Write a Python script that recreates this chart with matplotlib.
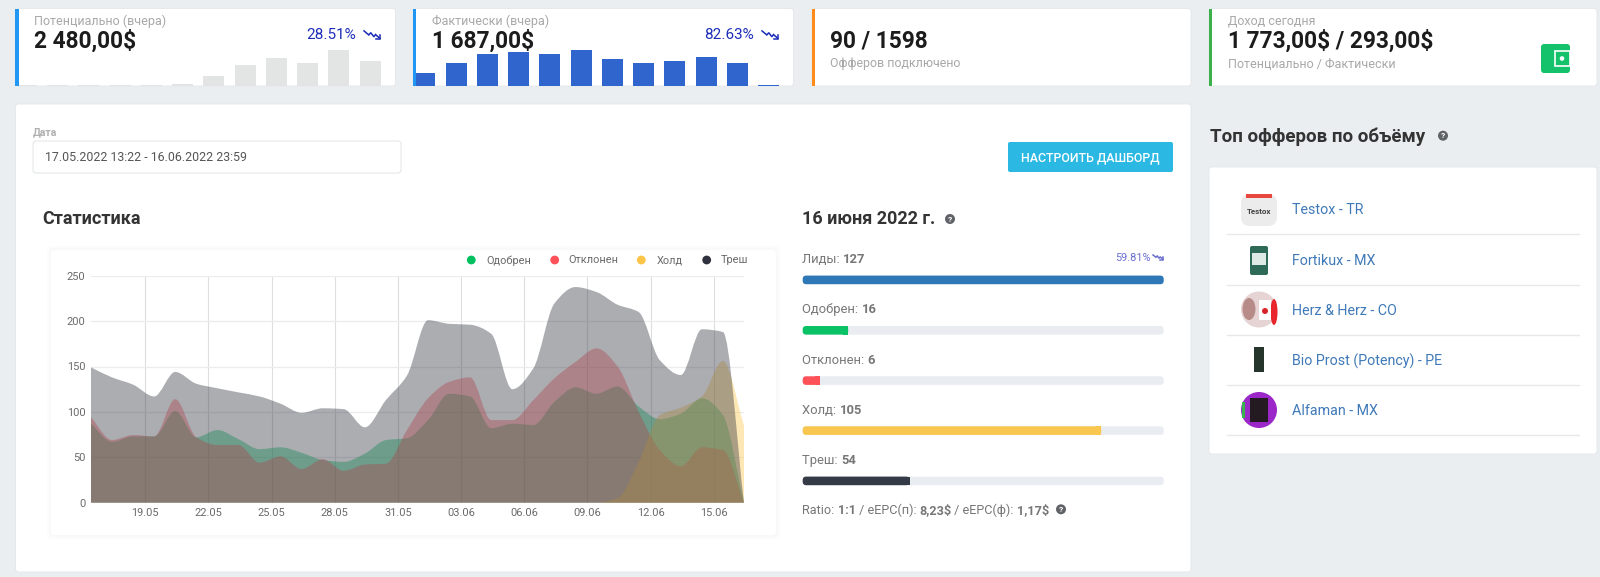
import matplotlib
matplotlib.use("Agg")
import matplotlib.pyplot as plt
import numpy as np
from matplotlib.patches import FancyBboxPatch, Rectangle, Circle, PathPatch, Ellipse
from matplotlib.path import Path

plt.rcParams['font.family'] = ['Roboto', 'DejaVu Sans']

# stacked area readings, one per day
approved = [87, 67, 73, 73, 101, 72, 80, 70, 59, 61, 55, 47, 45, 54, 69, 71,
            91, 120, 117, 82, 87, 85.5, 111, 127, 120, 128, 106, 92, 98, 115, 96.5, 0]
rejected = [94, 69, 74.5, 73, 114, 72, 63.5, 63.5, 44, 51, 37, 48, 35, 42, 43, 80,
            115, 133, 138, 91, 91, 113, 137, 155, 170, 150, 100, 58, 40, 61, 58, 0]
hold = [0, 0, 0, 0, 0, 0, 0, 0, 0, 0, 0, 0, 0, 0, 0, 0,
        0, 0, 0, 0, 0, 0, 0, 0, 0, 5, 45, 96.5, 104.6, 117, 156, 85]
trash = [149, 138, 130, 117, 144, 131, 126, 121.5, 117, 109, 99, 104, 103, 83, 113, 140,
         201, 197, 196, 186, 125, 148, 219.5, 237.5, 232, 218, 210, 157, 140.6, 191, 188, 0]
series_names = ["Одобрен", "Отклонен", "Холд", "Треш"]
series_colors = ["#00c060", "#ff5258", "#fcc548", "#2f323e"]

date_labels = ["19.05", "22.05", "25.05", "28.05", "31.05", "03.06", "06.06", "09.06", "12.06", "15.06"]
first_label_day = 2.57

# small bars in the top cards
potential_bars = [1, 1, 1, 1, 1, 2, 10, 21, 28, 23, 36, 25]
actual_bars = [13, 23, 32, 34, 32, 36, 27, 23, 25, 29, 23, 1]

# progress rows
row_names = ["Лиды", "Одобрен", "Отклонен", "Холд", "Треш"]
row_values = [127, 16, 6, 105, 54]
row_fill = [100, 12.6, 4.7, 82.7, 29.6]
row_colors = ["#2f78b7", "#0ac266", "#ff5258", "#f9c74f", "#343a46"]

offers = ["Testox - TR", "Fortikux - MX", "Herz & Herz - CO", "Bio Prost (Potency) - PE", "Alfaman - MX"]

W, H = 1600, 577
fig = plt.figure(figsize=(W / 100, H / 100), dpi=100, facecolor="#eaeef1")
bg = fig.add_axes([0, 0, 1, 1], zorder=0)
bg.set_xlim(0, W)
bg.set_ylim(H, 0)
bg.axis("off")


def px(size):
    return size * 0.72


def card(x0, y0, x1, y1, strip=None, strip_w=3.2):
    bg.add_patch(FancyBboxPatch((x0, y0), x1 - x0, y1 - y0, boxstyle="round,pad=0,rounding_size=3",
                                fc="white", ec="#e4e7ea", lw=0.6))
    if strip:
        bg.add_patch(Rectangle((x0, y0), strip_w, y1 - y0, fc=strip, ec="none", zorder=3))


def txt(x, y, s, size, color="#333333", weight="normal", ha="left", **kw):
    return bg.text(x, y + size * 0.08, s, fontsize=px(size), color=color, fontweight=weight, ha=ha, va="center",
                   parse_math=False, **kw)


def rich(x, y, parts, size, color):
    # label pieces of mixed weight, one after the other
    r = fig.canvas.get_renderer()
    for s, w in parts:
        t = txt(x, y, s, size, color, w)
        x = t.get_window_extent(r).x1
    return x


def help_icon(x, y, r=5):
    bg.add_patch(Circle((x, y), r, fc="#5f6368", ec="none"))
    bg.text(x, y + 0.3, "?", fontsize=px(r * 1.7), color="white", fontweight="bold", ha="center", va="center")


def trend(x0, y0, w, h, color):
    xs = np.array([0, 0.3, 0.42, 0.62, 0.72, 1.0]) * w + x0
    ys = np.array([0.1, 0.55, 0.3, 0.75, 0.5, 0.95]) * h + y0
    bg.plot(xs, ys, color=color, lw=1.1, solid_joinstyle="miter")
    bg.plot([x0 + w * 0.72, x0 + w, x0 + w], [y0 + h, y0 + h, y0 + h * 0.55], color=color, lw=1.1)


def bars(x0, x1, first_center, values, color):
    ax = fig.add_axes([x0 / W, 1 - 86 / H, (x1 - x0) / W, 77 / H], zorder=2)
    pitch = 31.25
    ax.bar(np.arange(len(values)), values, width=21 / pitch, color=color)
    ax.set_xlim((x0 - first_center) / pitch, (x1 - first_center) / pitch)
    ax.set_ylim(0, 77)
    ax.axis("off")


# top cards
card(15.3, 8.5, 395.5, 86, "#2196f3")
card(413, 8.5, 793.5, 86, "#2196f3")
card(812, 8.5, 1191, 86, "#ff8c1a")
card(1209, 8.5, 1597, 86, "#3cb04a")
bars(18.5, 395.5, 26.4, potential_bars, "#e3e5e4")
bars(416.2, 793.5, 424.9, actual_bars, "#3065cd")

grey = "#a8a8a8"
dark = "#1c1c1c"
blue = "#1c2db8"
txt(34.5, 20, "Потенциально (вчера)", 12.5, grey)
txt(34.5, 39, "2 480,00$", 22.6, dark, "bold")
txt(306, 34, "28.51%", 15.3, blue)
trend(364, 30, 16, 9, blue)
txt(432.5, 20, "Фактически (вчера)", 12.5, grey)
txt(432.5, 39, "1 687,00$", 22.6, dark, "bold")
txt(704, 34, "82.63%", 15.3, blue)
trend(762, 30, 16, 9, blue)
txt(830.5, 39, "90 / 1598", 22.6, dark, "bold")
txt(830.5, 63, "Офферов подключено", 12.4, grey)
txt(1227.5, 20, "Доход сегодня", 12.5, grey)
txt(1227.5, 39, "1 773,00$ / 293,00$", 22.6, dark, "bold")
txt(1227.5, 63, "Потенциально / Фактически", 12.5, grey)

# wallet
bg.add_patch(FancyBboxPatch((1541, 44), 29, 29, boxstyle="round,pad=0,rounding_size=3", fc="#14c26b", ec="none", zorder=3))
bg.add_patch(Rectangle((1555, 51), 15, 15, fc="#14c26b", ec="white", lw=1.2, zorder=4))
bg.add_patch(Circle((1562, 58.5), 2.3, fc="white", ec="none", zorder=5))

# main panel
card(15.5, 104, 1191, 572)
txt(33, 131, "Дата", 10.5, "#b0b0b0", "bold")
bg.add_patch(FancyBboxPatch((33, 141), 368, 32, boxstyle="round,pad=0,rounding_size=3", fc="white", ec="#e3e6e9", lw=0.8))
txt(45, 157, "17.05.2022 13:22 - 16.06.2022 23:59", 12.4, "#555555")
bg.add_patch(FancyBboxPatch((1008, 142), 165, 30, boxstyle="round,pad=0,rounding_size=2", fc="#2bb8e3", ec="none"))
txt(1090.5, 157, "НАСТРОИТЬ ДАШБОРД", 12.4, "white", "medium", ha="center")
txt(42, 218, "Статистика", 18, "#333333", "bold")

# chart card
for grow, a in [(4, 0.25), (2, 0.4)]:
    bg.add_patch(FancyBboxPatch((51 - grow, 250 - grow), 725 + 2 * grow, 285 + 2 * grow,
                                boxstyle="round,pad=0,rounding_size=5", fc="#f4f5f7", ec="none", alpha=a))
bg.add_patch(FancyBboxPatch((51, 250), 725, 285, boxstyle="round,pad=0,rounding_size=4", fc="white", ec="none"))

ax = fig.add_axes([91 / W, 1 - 502.7 / H, 653 / W, 227 / H], zorder=2)
ax.patch.set_alpha(0)
days = np.arange(len(trash))


def smooth_area(y, color):
    # monotone cubic through the readings, as bezier segments down to the baseline
    y = np.asarray(y, dtype=float)
    d = np.diff(y)
    m = np.zeros(len(y))
    for i in range(1, len(y) - 1):
        if d[i - 1] * d[i] > 0:
            m[i] = 2 * d[i - 1] * d[i] / (d[i - 1] + d[i])
    m[0], m[-1] = d[0], d[-1]
    verts = [(days[0], 0), (days[0], y[0])]
    codes = [Path.MOVETO, Path.LINETO]
    for i in range(len(y) - 1):
        verts += [(days[i] + 1 / 3, y[i] + m[i] / 3), (days[i + 1] - 1 / 3, y[i + 1] - m[i + 1] / 3),
                  (days[i + 1], y[i + 1])]
        codes += [Path.CURVE4] * 3
    verts += [(days[-1], 0), (days[0], 0)]
    codes += [Path.LINETO, Path.CLOSEPOLY]
    ax.add_patch(PathPatch(Path(verts, codes), fc=color, ec="none", alpha=0.4, zorder=3))


for values, c in zip([approved, rejected, hold, trash], series_colors):
    smooth_area(values, c)

ax.set_xlim(0, 31)
ax.set_ylim(0, 250)
ax.set_xticks(first_label_day + 3 * np.arange(len(date_labels)), date_labels)
ax.set_yticks(np.arange(0, 251, 50))
ax.grid(True, axis="y", color="#ececec", lw=0.9)
ax.grid(True, axis="x", color="#dedede", lw=0.8)
ax.set_axisbelow(True)
ax.tick_params(length=0, labelsize=px(11), labelcolor="#6a6a6a")
ax.tick_params(axis="y", pad=4)
ax.tick_params(axis="x", pad=3.5)
for s in ax.spines.values():
    s.set_visible(False)

for name, c, mx, tx in zip(series_names, series_colors, [471.3, 554.7, 641.3, 706.7], [486, 568.7, 656.3, 721]):
    bg.add_patch(Circle((mx, 260), 4.4, fc=c, ec="none", zorder=3))
    txt(tx, 259.5, name, 11, "#6a6a6a", zorder=3)

# day summary
txt(802.3, 218, "16 июня 2022 г.", 18, "#333333", "bold")
help_icon(950, 219)
row_y = [258.3, 308.7, 359, 409, 459.3]
for y, name, val, fill, c in zip(row_y, row_names, row_values, row_fill, row_colors):
    rich(802.3, y, [(name + ": ", "normal"), (str(val), "bold")], 13, "#777777")
    top = y + 17.3
    bg.add_patch(FancyBboxPatch((802.7, top), 361, 8.6, boxstyle="round,pad=0,rounding_size=3.5", fc="#e9edf1", ec="none"))
    w = 361 * fill / 100
    bg.add_patch(FancyBboxPatch((802.7, top), w, 8.6, boxstyle="round,pad=0,rounding_size=3.5", fc=c, ec="none"))
    if fill < 100:
        bg.add_patch(Rectangle((802.7 + w - 5, top), 5, 8.6, fc=c, ec="none"))
txt(1115, 257, "59.81%", 11, "#6a6fcf")
trend(1153, 254.5, 10, 5, "#6a6fcf")
rich(802.3, 509.3, [("Ratio: ", "normal"), ("1:1", "bold"), (" / eEPC(п): ", "normal"), ("8,23$", "bold"),
                    (" / eEPC(ф): ", "normal"), ("1,17$", "bold")], 12.6, "#777777")
help_icon(1061, 509.3)

# top offers
txt(1210, 135, "Топ офферов по объёму", 18.8, "#333333", "bold")
help_icon(1443, 135.7)
card(1209, 167, 1597, 454)
offer_y = [209.3, 259.7, 309.7, 359.7, 410]
for y, name in zip(offer_y, offers):
    txt(1292, y, name, 14.2, "#3f79b8")
    bg.plot([1227, 1579], [y + 25, y + 25], color="#e6e9ec", lw=1)

# offer thumbnails
bg.add_patch(FancyBboxPatch((1241, 194), 36, 32, boxstyle="round,pad=0,rounding_size=9", fc="#ececec", ec="none"))
bg.add_patch(Rectangle((1246, 193.5), 26, 4, fc="#e8483f", ec="none"))
bg.text(1259, 211, "Testox", fontsize=px(8), color="#444444", fontweight="bold", ha="center", va="center")
bg.add_patch(FancyBboxPatch((1250, 246), 18, 29, boxstyle="round,pad=0,rounding_size=2", fc="#2f6a58", ec="none"))
bg.add_patch(Rectangle((1252, 253), 14, 12, fc="#dfeae6", ec="none"))
bg.add_patch(Circle((1259, 309.5), 18, fc="#e6d4d4", ec="none"))
bg.add_patch(Ellipse((1274, 312), 7, 26, fc="#e8262c", ec="none"))
bg.add_patch(Rectangle((1259, 300), 12, 20, fc="white", ec="none"))
bg.add_patch(Circle((1265, 311), 3, fc="#d8232a", ec="none"))
bg.add_patch(Ellipse((1249, 309), 13, 22, fc="#b78c88", ec="none"))
bg.add_patch(Rectangle((1254, 347), 10, 25, fc="#26352c", ec="none"))
bg.add_patch(Circle((1259, 410), 18, fc="#9b27c8", ec="none"))
bg.add_patch(Rectangle((1250, 398), 18, 24, fc="#231a22", ec="none"))
bg.add_patch(Rectangle((1242, 402), 3, 16, fc="#37b24d", ec="none"))

fig.savefig("out.png", dpi=100, facecolor=fig.get_facecolor())
